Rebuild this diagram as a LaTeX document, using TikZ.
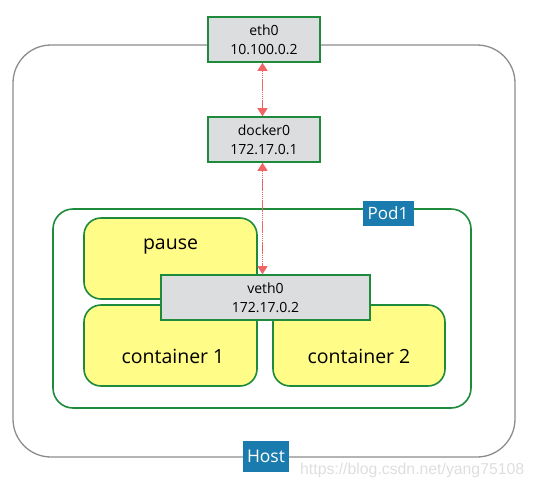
\documentclass[tikz,border=0pt]{standalone}
\usepackage{fontspec}
\setmainfont{Open Sans}
\newfontfamily\wmfont{Liberation Sans}
\usetikzlibrary{arrows.meta}
\definecolor{gborder}{HTML}{1E8A3C}
\definecolor{gfill}{HTML}{DCDDDF}
\definecolor{yfill}{HTML}{FFFC88}
\definecolor{blab}{HTML}{1A7BAE}
\definecolor{redarr}{HTML}{F06464}
\definecolor{hostline}{HTML}{8C8C8C}
\tikzset{
  ifbox/.style={draw=gborder, line width=1.6pt, fill=gfill, inner sep=0pt, align=center, font=\fontsize{14}{19}\selectfont},
  ctbox/.style={draw=gborder, line width=1.6pt, fill=yfill, rounded corners=17pt, inner sep=0pt},
  cttext/.style={font=\fontsize{19.5}{22}\selectfont},
  tag/.style={fill=blab, text=white, inner sep=0pt},
  link/.style={color=redarr, line width=1.2pt, dash pattern=on 1.6pt off 0.5pt, {Triangle[width=10pt,length=8pt]}-{Triangle[width=10pt,length=8pt]}}
}
\begin{document}
\begin{tikzpicture}[x=1pt,y=-1pt]
\useasboundingbox (0,0) rectangle (534,490);
% host
\draw[hostline, line width=1.3pt, rounded corners=38pt] (13,45) rectangle (515,457);
\node[tag, minimum width=46pt, minimum height=31pt, font=\fontsize{17.5}{20}\selectfont] (host) at (266,456) {Host};
% pod
\draw[gborder, line width=1.6pt, rounded corners=20pt] (53,209) rectangle (471,408);
\node[tag, minimum width=51pt, minimum height=25pt, font=\fontsize{17}{20}\selectfont] (pod) at (388,213) {Pod1};
% interfaces
\node[ifbox, minimum width=112pt, minimum height=45pt] (eth) at (264,39.5) {eth0\\10.100.0.2};
\node[ifbox, minimum width=112pt, minimum height=45pt] (docker) at (264,139.5) {docker0\\172.17.0.1};
% containers
\node[ctbox, minimum width=173pt, minimum height=81pt] (pause) at (170.5,258.5) {};
\node[cttext] (pauset) at (170.5,247) {pause};
\node[ctbox, minimum width=173pt, minimum height=81pt] (c1) at (170.5,345.5) {};
\node[cttext] (c1t) at (173,356) {container 1};
\node[ctbox, minimum width=172pt, minimum height=81pt] (c2) at (359,345.5) {};
\node[cttext] (c2t) at (359,356) {container 2};
\node[ifbox, minimum width=209pt, minimum height=45pt] (veth) at (265.5,297.5) {veth0\\172.17.0.2};
% links
\draw[link] (eth.south -| 262.5,0) -- (docker.north -| 262.5,0);
\draw[link] (docker.south -| 262.5,0) -- (veth.north -| 262.5,0);
% watermark
\node[text=black!13, font=\fontsize{15.8}{18}\wmfont, anchor=west, inner sep=0pt] (wm) at (300,470) {https://blog.csdn.net/yang75108};
\end{tikzpicture}
\end{document}
